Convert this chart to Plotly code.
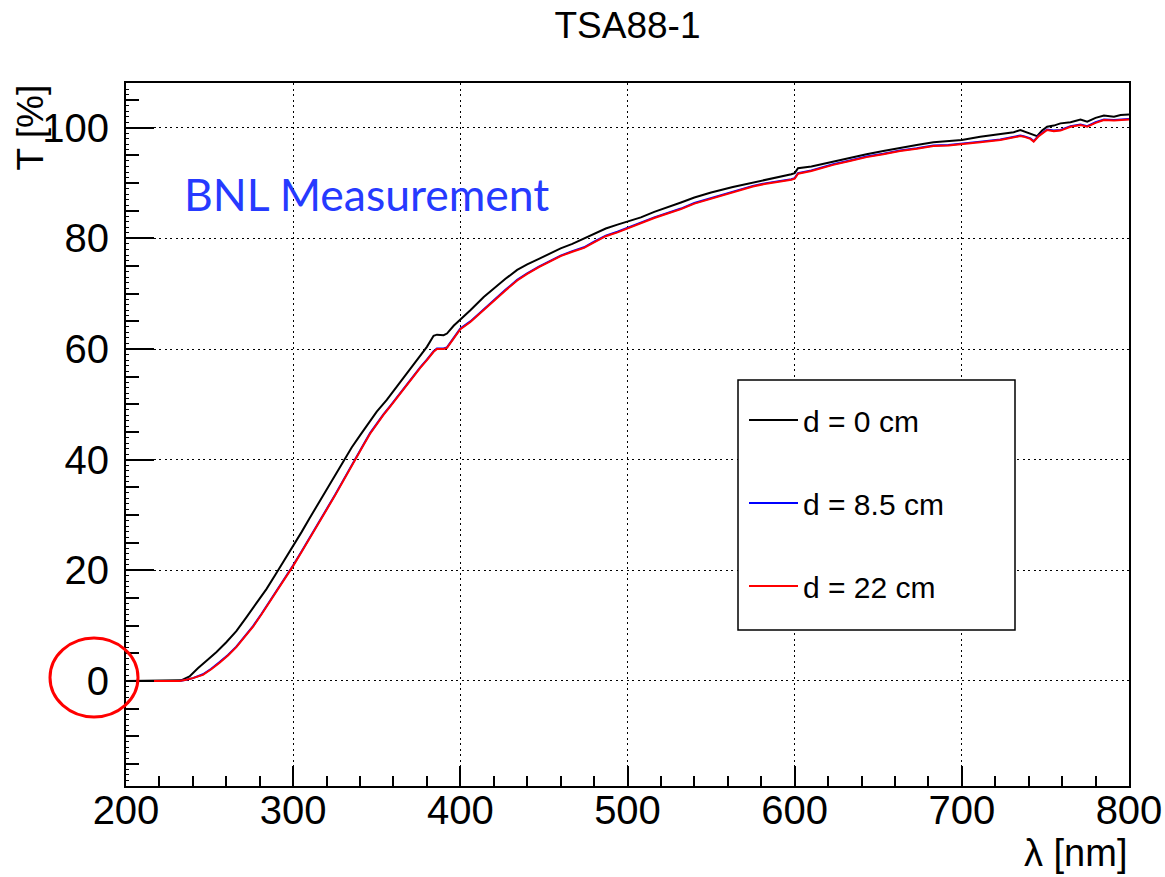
import plotly.graph_objects as go

# Wavelength samples [nm] and transmittance [%] for each distance
wl_d0 = [200, 210, 220, 230, 233, 238, 243, 248, 254, 260, 266, 272, 278, 284, 290,
         295, 300, 305, 310, 316, 320, 325, 330, 335, 340, 345, 350, 356, 361, 366,
         370, 374, 380, 384, 386, 390, 392, 396, 400, 406, 414, 420, 427, 434, 440,
         447, 454, 460, 467, 474, 480, 487, 494, 500, 508, 516, 524, 532, 540, 550,
         563, 575, 583, 592, 598, 600, 602, 610, 623, 633, 643, 653, 663, 673, 683,
         692, 700, 711, 723, 731, 735, 737, 741, 745, 748, 751, 755, 759, 765, 771,
         775, 780, 785, 791, 795, 800]
t_d0 = [0.0, 0.0, 0.0, 0.0, 0.1, 0.8, 2.3, 3.6, 5.2, 7.0, 9.0, 11.5, 14.0, 16.6, 19.5,
        21.9, 24.3, 26.9, 29.5, 32.6, 34.6, 37.2, 39.8, 42.2, 44.4, 46.6, 48.7, 50.8, 52.8, 55.0,
        56.6, 58.0, 60.4, 62.4, 62.6, 62.5, 62.8, 64.2, 65.3, 67.0, 69.4, 71.0, 72.7, 74.3, 75.3,
        76.3, 77.4, 78.2, 79.0, 80.0, 80.9, 81.8, 82.5, 83.0, 83.8, 84.8, 85.6, 86.5, 87.4, 88.3,
        89.3, 90.1, 90.6, 91.1, 91.6, 91.8, 92.7, 93.0, 93.9, 94.6, 95.2, 95.8, 96.4, 96.9, 97.4,
        97.6, 97.8, 98.4, 98.8, 99.2, 99.6, 99.4, 98.9, 98.5, 99.5, 100.2, 100.4, 100.8, 101.0, 101.5,
        101.1, 101.8, 102.2, 102.0, 102.3, 102.4]

wl_d85 = [200, 210, 220, 232, 236, 240, 246, 251, 256, 261, 266, 271, 276, 281, 286,
          291, 296, 300, 305, 310, 316, 320, 325, 330, 334, 338, 342, 346, 350, 354,
          358, 362, 367, 372, 376, 380, 384, 386, 390, 392, 396, 400, 406, 414, 420,
          427, 434, 440, 447, 454, 460, 467, 474, 480, 487, 494, 500, 508, 516, 524,
          532, 540, 550, 563, 575, 583, 592, 598, 600, 602, 610, 623, 633, 643, 653,
          663, 673, 683, 692, 700, 711, 723, 731, 735, 737, 741, 743, 746, 751, 755,
          759, 765, 771, 775, 780, 785, 791, 795, 800]
t_d85 = [0.0, 0.0, 0.0, 0.0, 0.2, 0.5, 1.2, 2.2, 3.4, 4.7, 6.2, 8.0, 9.9, 12.1, 14.4,
         16.7, 19.0, 20.9, 23.4, 25.9, 28.9, 30.9, 33.6, 36.3, 38.5, 40.6, 42.7, 44.8, 46.6, 48.2,
         49.7, 51.3, 53.2, 55.1, 56.7, 58.1, 59.6, 60.1, 60.1, 60.3, 62.1, 63.7, 65.0, 67.2, 68.8,
         70.7, 72.5, 73.7, 74.9, 76.0, 76.9, 77.7, 78.4, 79.4, 80.5, 81.2, 81.9, 82.9, 83.8, 84.6,
         85.4, 86.4, 87.3, 88.5, 89.5, 90.0, 90.4, 90.7, 90.9, 91.8, 92.3, 93.4, 94.1, 94.8, 95.3,
         95.9, 96.3, 96.8, 96.9, 97.1, 97.5, 97.9, 98.4, 98.6, 98.5, 98.1, 97.6, 98.6, 99.7, 99.5,
         99.6, 100.3, 100.6, 100.3, 101.0, 101.5, 101.4, 101.5, 101.6]

wl_d22 = [200, 210, 220, 232, 236, 240, 246, 251, 256, 261, 266, 271, 276, 281, 286,
          291, 296, 300, 305, 310, 316, 320, 325, 330, 334, 338, 342, 346, 350, 354,
          358, 362, 367, 372, 376, 380, 384, 386, 390, 392, 396, 400, 406, 414, 420,
          427, 434, 440, 447, 454, 460, 467, 474, 480, 487, 494, 500, 508, 516, 524,
          532, 540, 550, 563, 575, 583, 592, 598, 600, 602, 610, 623, 633, 643, 653,
          663, 673, 683, 692, 700, 711, 723, 731, 735, 737, 741, 743, 746, 751, 755,
          759, 765, 771, 775, 780, 785, 791, 795, 800]
t_d22 = [0.0, 0.0, 0.0, 0.0, 0.2, 0.5, 1.1, 2.1, 3.3, 4.6, 6.1, 7.9, 9.8, 12.0, 14.3,
         16.6, 18.9, 20.8, 23.3, 25.8, 28.8, 30.8, 33.5, 36.2, 38.4, 40.5, 42.6, 44.7, 46.5, 48.1,
         49.6, 51.2, 53.1, 55.0, 56.6, 58.0, 59.5, 60.0, 60.0, 60.2, 62.0, 63.6, 64.9, 67.1, 68.7,
         70.6, 72.4, 73.6, 74.8, 75.9, 76.8, 77.6, 78.3, 79.3, 80.4, 81.1, 81.8, 82.8, 83.7, 84.5,
         85.3, 86.3, 87.2, 88.4, 89.4, 89.9, 90.3, 90.6, 90.8, 91.7, 92.2, 93.3, 94.0, 94.7, 95.2,
         95.8, 96.2, 96.7, 96.8, 97.0, 97.4, 97.8, 98.3, 98.5, 98.4, 98.0, 97.5, 98.5, 99.6, 99.4,
         99.5, 100.2, 100.5, 100.2, 100.9, 101.4, 101.3, 101.4, 101.5]

series_names = ["d = 0 cm", "d = 8.5 cm", "d = 22 cm"]
series_colors = ["#000000", "#0000ff", "#ff0000"]

x_range = [200, 800]
y_range = [-19.0, 108.1]

FONT = "Liberation Sans, Arial, Helvetica, sans-serif"

fig = go.Figure()
for i, (wl, t) in enumerate([(wl_d0, t_d0), (wl_d85, t_d85), (wl_d22, t_d22)]):
    fig.add_trace(go.Scatter(
        x=wl, y=t, mode="lines", name=series_names[i],
        legendgroup=f"g{i}",
        line=dict(color=series_colors[i], width=2),
    ))

axis_common = dict(
    showline=True, linecolor="black", linewidth=2, mirror=True,
    showgrid=True, gridcolor="black", gridwidth=1, griddash="2px,3.5px",
    zeroline=False, ticks="inside", tickcolor="black", tickwidth=2,
    automargin=False,
    tickfont=dict(family=FONT, size=40, color="black"),
)

fig.update_layout(
    width=1165, height=877,
    margin=dict(l=126, r=36, t=83, b=91),
    paper_bgcolor="white", plot_bgcolor="white",
    showlegend=True,
    title=dict(text="TSA88-1", x=0.5, xref="paper", xanchor="center",
               y=1 - 25 / 877, yref="container", yanchor="middle",
               font=dict(family=FONT, size=37, color="black")),
    xaxis=dict(range=x_range, dtick=100, tick0=200, ticklen=20,
               ticklabelstandoff=-12,
               minor=dict(dtick=20, ticklen=10, ticks="inside", tickcolor="black",
                          tickwidth=2, showgrid=False),
               **axis_common),
    yaxis=dict(range=y_range, dtick=20, tick0=0, ticklen=28,
               ticklabelstandoff=7,
               minor=dict(dtick=5, ticklen=13, ticks="inside", tickcolor="black",
                          tickwidth=2, showgrid=False),
               **axis_common),
    yaxis2=dict(range=y_range, overlaying="y", side="left", dtick=1, tick0=0,
                ticks="inside", ticklen=3, tickwidth=1, tickcolor="black",
                showticklabels=False, showgrid=False, zeroline=False, showline=False,
                automargin=False),
    legend=dict(x=(744 - 126) / 1003, xanchor="left",
                y=(786 - 394) / 703, yanchor="top",
                bgcolor="rgba(0,0,0,0)", borderwidth=0,
                font=dict(family=FONT, size=30, color="black"),
                itemwidth=49, tracegroupgap=41, traceorder="grouped"),
)

# overlay axis carrying the finest (1 %) tick marks
fig.add_trace(go.Scatter(x=[None], y=[None], yaxis="y2", showlegend=False,
                         hoverinfo="skip"))

shapes = [
    # legend frame
    dict(type="rect", xref="paper", yref="paper",
         x0=(738 - 126) / 1003, x1=(1015 - 126) / 1003,
         y0=(786 - 630) / 703, y1=(786 - 380) / 703,
         line=dict(color="black", width=1.5), fillcolor="white", layer="above"),
    # highlight ring around the zero label
    dict(type="circle", xref="paper", yref="paper",
         x0=(50 - 126) / 1003, x1=(138 - 126) / 1003,
         y0=(786 - 717) / 703, y1=(786 - 638) / 703,
         line=dict(color="#ff0000", width=3), layer="above"),
]
fig.update_layout(shapes=shapes)

fig.add_annotation(text="T [%]", xref="paper", yref="paper",
                   x=(29.5 - 126) / 1003, y=1.0, xanchor="center", yanchor="top",
                   textangle=-90, showarrow=False,
                   font=dict(family=FONT, size=37, color="black"))
fig.add_annotation(text="λ [nm]", xref="paper", yref="paper",
                   x=1.0, y=(786 - 853) / 703, xanchor="right", yanchor="middle",
                   showarrow=False,
                   font=dict(family=FONT, size=38, color="black"))
fig.add_annotation(text="BNL Measurement", xref="paper", yref="paper",
                   x=(182 - 126) / 1003, y=(786 - 193) / 703,
                   xanchor="left", yanchor="middle", showarrow=False,
                   font=dict(family="Lato, sans-serif", size=44.5, color="rgb(38,58,255)"))

fig.write_html("out.html")
